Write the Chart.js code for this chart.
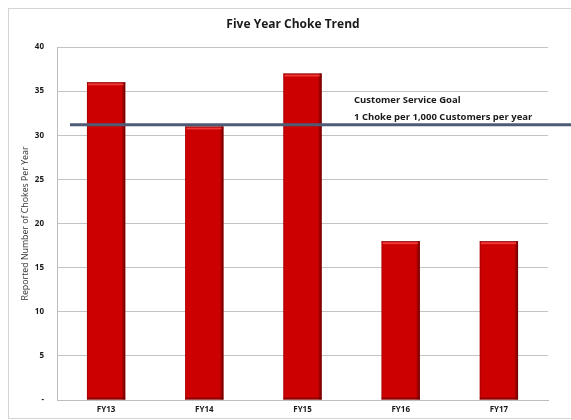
<!DOCTYPE html>
<html>
<head>
<meta charset="utf-8">
<script src="https://cdn.jsdelivr.net/npm/chart.js@4.4.1/dist/chart.umd.min.js"></script>
<style>
  html, body { margin: 0; padding: 0; background: #fff; }
  #wrap { width: 571px; height: 420px; position: relative; }
</style>
</head>
<body>
<div id="wrap"><canvas id="c" width="571" height="420"></canvas></div>
<script>
// Fiscal years and reported chokes per year
const years = ['FY13', 'FY14', 'FY15', 'FY16', 'FY17'];
const chokes = [36, 31, 37, 18, 18];
// Customer service goal: 1 choke per 1,000 customers per year
const goalValue = 31.2;
const goalLabel = ['Customer Service Goal', '1 Choke per 1,000 Customers per year'];
const yTicks = [0, 5, 10, 15, 20, 25, 30, 35, 40];
const chartTitle = 'Five Year Choke Trend';

const FONT = "'Open Sans', 'Liberation Sans', sans-serif";

// Thin frame around the whole chart, plus the centred heading
const framePlugin = {
  id: 'frame',
  beforeDraw(chart) {
    const ctx = chart.ctx;
    ctx.save();
    ctx.strokeStyle = '#d4d4d4';
    ctx.lineWidth = 1;
    ctx.strokeRect(8.5, 8.5, 620, 410);
    ctx.fillStyle = '#1a1a1a';
    ctx.font = 'bold 12px ' + FONT;
    ctx.textAlign = 'center';
    ctx.textBaseline = 'middle';
    ctx.fillText(chartTitle, 293, 25);
    ctx.restore();
  }
};

// Bevel shading on each bar: light top edge, dark right and bottom edges
const bevelPlugin = {
  id: 'bevel',
  afterDatasetsDraw(chart) {
    const ctx = chart.ctx;
    const meta = chart.getDatasetMeta(0);
    ctx.save();
    meta.data.forEach(bar => {
      const left = bar.x - bar.width / 2;
      const right = bar.x + bar.width / 2;
      const top = bar.y;
      const bottom = bar.base;
      const g = ctx.createLinearGradient(right - 4, 0, right, 0);
      g.addColorStop(0, 'rgba(90,0,0,0)');
      g.addColorStop(1, 'rgba(90,0,0,0.85)');
      ctx.fillStyle = g;
      ctx.fillRect(right - 4, top, 4, bottom - top);
      const gb = ctx.createLinearGradient(0, bottom - 3, 0, bottom);
      gb.addColorStop(0, 'rgba(90,0,0,0)');
      gb.addColorStop(1, 'rgba(90,0,0,0.8)');
      ctx.fillStyle = gb;
      ctx.fillRect(left, bottom - 3, right - left, 3);
      ctx.fillStyle = '#f03a3a';
      ctx.fillRect(left + 1, top + 1, right - left - 3, 2);
      ctx.fillStyle = 'rgba(120,0,0,0.6)';
      ctx.fillRect(left, top, right - left, 1);
      ctx.fillStyle = 'rgba(150,0,0,0.6)';
      ctx.fillRect(left, top, 1, bottom - top);
    });
    ctx.restore();
  }
};

// Horizontal goal line with its caption
const goalPlugin = {
  id: 'goal',
  afterDatasetsDraw(chart) {
    const ctx = chart.ctx;
    const y = chart.scales.y.getPixelForValue(goalValue);
    ctx.save();
    ctx.strokeStyle = '#4e5a76';
    ctx.lineWidth = 3;
    ctx.beginPath();
    ctx.moveTo(70, y);
    ctx.lineTo(chart.width, y);
    ctx.stroke();
    ctx.fillStyle = '#1a1a1a';
    ctx.font = 'bold 9.5px ' + FONT;
    ctx.textBaseline = 'middle';
    ctx.textAlign = 'left';
    ctx.fillText(goalLabel[0], 354, y - 24);
    ctx.fillText(goalLabel[1], 354, y - 7);
    ctx.restore();
  }
};

new Chart(document.getElementById('c'), {
  type: 'bar',
  data: {
    labels: years,
    datasets: [{
      data: chokes,
      backgroundColor: '#cc0000',
      borderWidth: 0,
      categoryPercentage: 1,
      barPercentage: 0.39
    }]
  },
  options: {
    responsive: false,
    animation: false,
    layout: { padding: { top: 47, right: 23, bottom: 0, left: 20 } },
    plugins: {
      legend: { display: false },
      tooltip: { enabled: false },
      title: { display: false }
    },
    scales: {
      x: {
        grid: { display: false, drawTicks: false },
        border: { display: true, color: '#bdbdbd', width: 1 },
        ticks: {
          color: '#1a1a1a',
          font: { family: FONT, size: 8, weight: 'bold' },
          padding: 5
        },
        afterFit(s) { s.height = 20; }
      },
      y: {
        min: 0,
        max: 40,
        afterBuildTicks(s) { s.ticks = yTicks.map(v => ({ value: v })); },
        grid: { color: '#c4c4c4', lineWidth: 1, drawTicks: false },
        border: { display: true, color: '#bdbdbd', width: 1 },
        ticks: {
          color: '#1a1a1a',
          font: { family: FONT, size: 8, weight: 'bold' },
          padding: 13,
          callback: v => (v === 0 ? '-' : String(v))
        },
        title: {
          display: true,
          text: 'Reported Number of Chokes Per Year',
          color: '#333',
          font: { family: FONT, size: 8.8 },
          padding: { top: 0, bottom: 2 }
        },
        afterFit(s) { s.width = 37; }
      }
    }
  },
  plugins: [framePlugin, bevelPlugin, goalPlugin]
});
</script>
</body>
</html>
